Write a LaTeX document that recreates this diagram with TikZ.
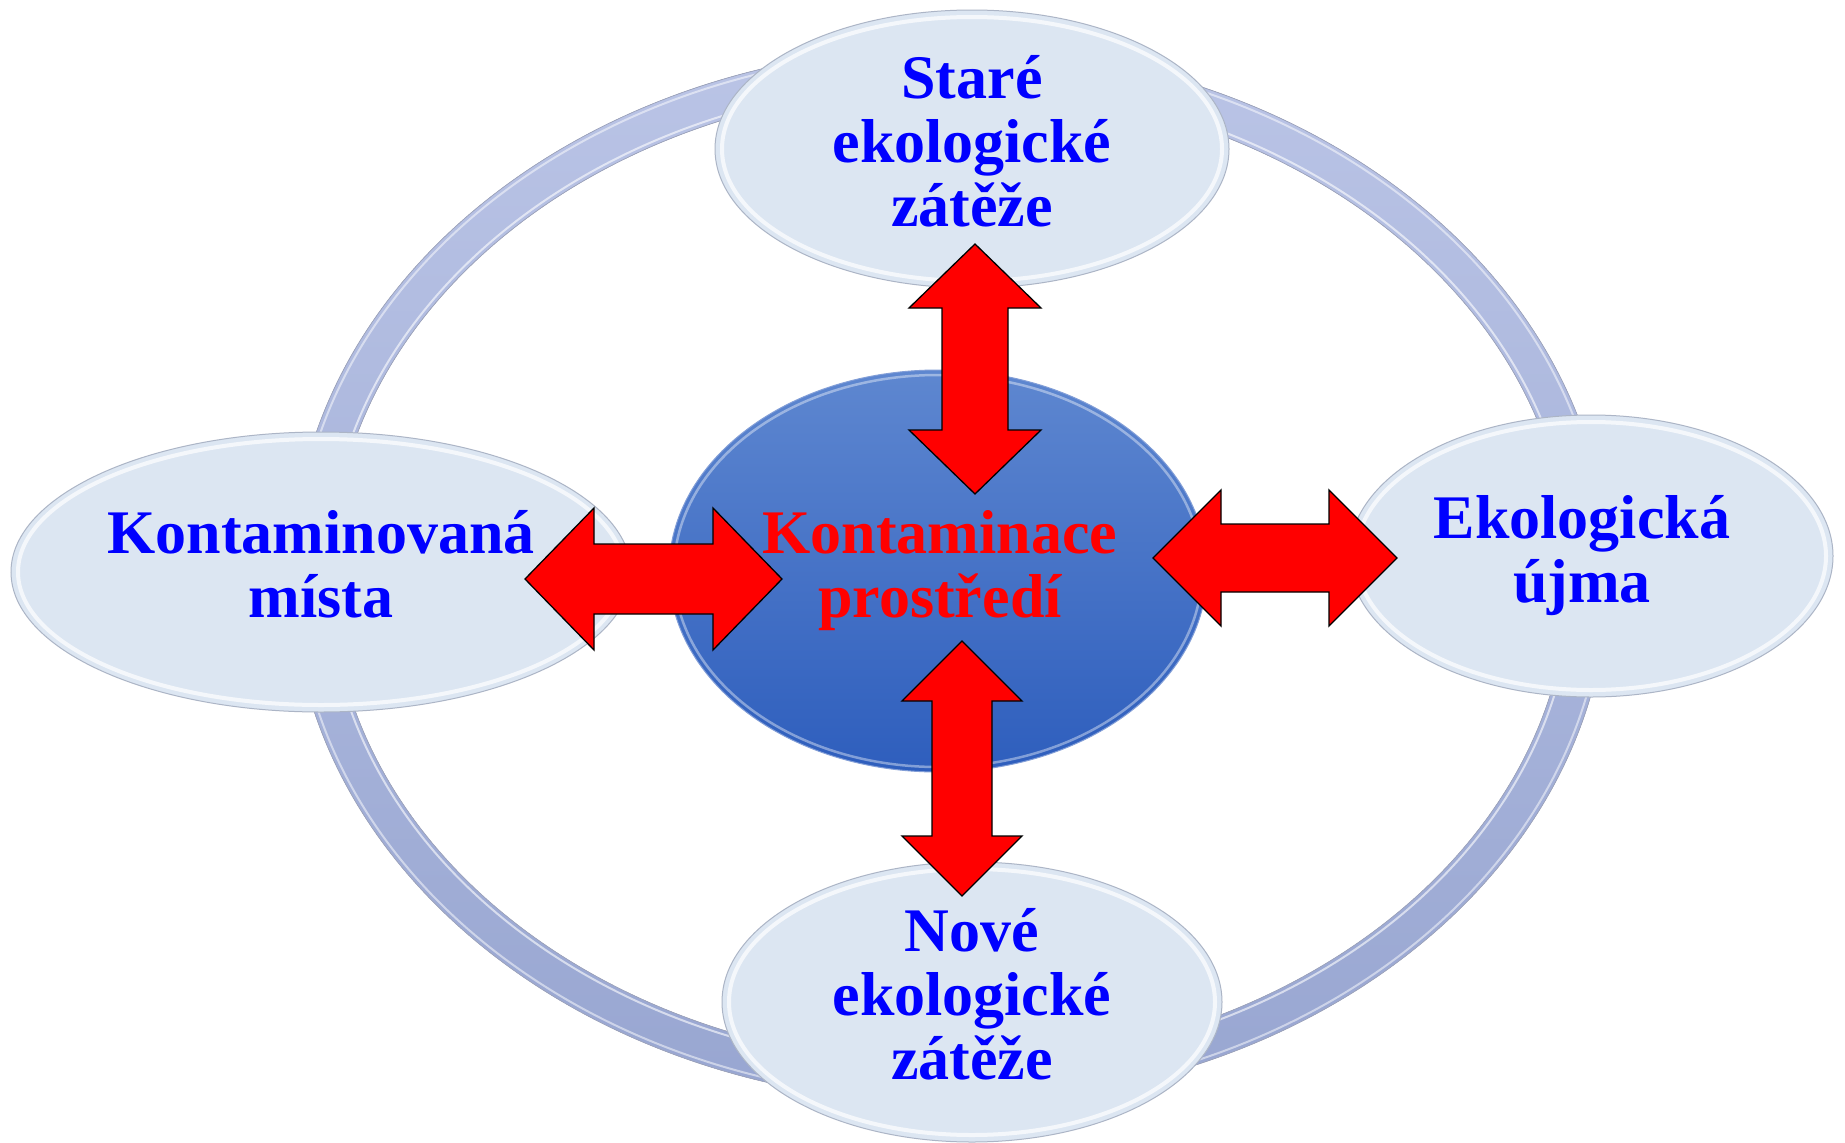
\documentclass[tikz,border=0pt]{standalone}
\usepackage{fontspec}
\setmainfont{Liberation Serif}
\usetikzlibrary{shapes.geometric,calc}

\definecolor{ringtop}{RGB}{186,196,230}
\definecolor{ringbot}{RGB}{152,166,209}
\definecolor{ringedge}{RGB}{160,167,192}
\definecolor{bubblefill}{RGB}{220,230,242}
\definecolor{bubbleedge}{RGB}{172,181,198}
\definecolor{coretop}{RGB}{94,135,208}
\definecolor{corebot}{RGB}{46,94,189}
\definecolor{txtblue}{RGB}{0,0,255}
\definecolor{txtred}{RGB}{255,0,0}

% double-headed block arrow between two named tips:
% #1,#2 tips, #3 half head width, #4 half shaft width, #5 head length
\newcommand\blockarrow[5]{%
  \draw[blockarrow]
    (#1)
    -- ($(#1)!#5pt!(#2)!#3pt!90:(#2)$)
    -- ($(#1)!#5pt!(#2)!#4pt!90:(#2)$)
    -- ($(#2)!#5pt!(#1)!#4pt!-90:(#1)$)
    -- ($(#2)!#5pt!(#1)!#3pt!-90:(#1)$)
    -- (#2)
    -- ($(#2)!#5pt!(#1)!#3pt!90:(#1)$)
    -- ($(#2)!#5pt!(#1)!#4pt!90:(#1)$)
    -- ($(#1)!#5pt!(#2)!#4pt!-90:(#2)$)
    -- ($(#1)!#5pt!(#2)!#3pt!-90:(#2)$)
    -- cycle;}

\begin{document}
\begin{tikzpicture}[x=1pt,y=-1pt,
  bubble/.style 2 args={ellipse, draw=bubbleedge, line width=1pt,
    fill=bubblefill, inner sep=0pt, outer sep=0pt,
    minimum width=2*#1, minimum height=2*#2,
    path picture={\draw[white, line width=4pt, opacity=0.7]
      (path picture bounding box.center) ellipse [x radius=#1-7, y radius=#2-7];}},
  core/.style={ellipse, draw=corebot!60!white, line width=1pt,
    top color=coretop, bottom color=corebot, inner sep=0pt, outer sep=0pt,
    minimum width=538, minimum height=402,
    path picture={\draw[white, line width=2.5pt, opacity=0.4]
      (path picture bounding box.center) ellipse [x radius=264, y radius=196];}},
  txtb/.style={font=\fontsize{62}{64}\selectfont\bfseries, text=txtblue,
    align=center, inner sep=0pt},
  txtr/.style={txtb, text=txtred},
  blockarrow/.style={fill=red, draw=black, line width=1.3pt, line join=miter},
]
\useasboundingbox (0,0) rectangle (1845,1143);
\fill[white] (0,0) rectangle (1845,1143);

% the surrounding ring
\coordinate (ring) at (950,575);
\fill[even odd rule, top color=ringtop, bottom color=ringbot]
  (ring) ellipse [x radius=658, y radius=528]
  (ring) ellipse [x radius=619, y radius=489];
\draw[white, opacity=0.5, line width=2pt] (ring) ellipse [x radius=654, y radius=524];
\draw[white, opacity=0.6, line width=2pt] (ring) ellipse [x radius=623, y radius=493];
\draw[ringedge, line width=0.7pt] (ring) ellipse [x radius=658, y radius=528];
\draw[ringedge, line width=0.7pt] (ring) ellipse [x radius=619, y radius=489];

% outer bubbles
\node[bubble={257}{139},
  label={[txtb, yshift=7.5pt]center:{Staré\\ekologické\\zátěže}}]
  (stare) at (972,149) {};
\node[bubble={310}{140},
  label={[txtb, yshift=7.5pt]center:{Kontaminovaná\\místa}}]
  (mista) at (321,572) {};
\node[bubble={242}{141},
  label={[txtb, xshift=-9pt, yshift=0pt]center:{Ekologická\\újma}}]
  (ujma) at (1591,556) {};
\node[bubble={250}{140},
  label={[txtb, yshift=7.5pt]center:{Nové\\ekologické\\zátěže}}]
  (nove) at (972,1002) {};

% central bubble
\node[core, label={[txtr, xshift=2pt]center:{Kontaminace\\prostředí}}]
  (centre) at (938,571) {};

% arrow tips
\coordinate (tA) at (975,244);  \coordinate (tB) at (975,494);
\coordinate (bA) at (962,641);  \coordinate (bB) at (962,896);
\coordinate (lA) at (525,579);  \coordinate (lB) at (782,579);
\coordinate (rA) at (1153,558); \coordinate (rB) at (1397,558);

\blockarrow{tA}{tB}{66}{33}{64}
\blockarrow{bA}{bB}{60}{30}{60}
\blockarrow{lA}{lB}{71}{35}{69}
\blockarrow{rA}{rB}{68}{34}{68}
\end{tikzpicture}
\end{document}
